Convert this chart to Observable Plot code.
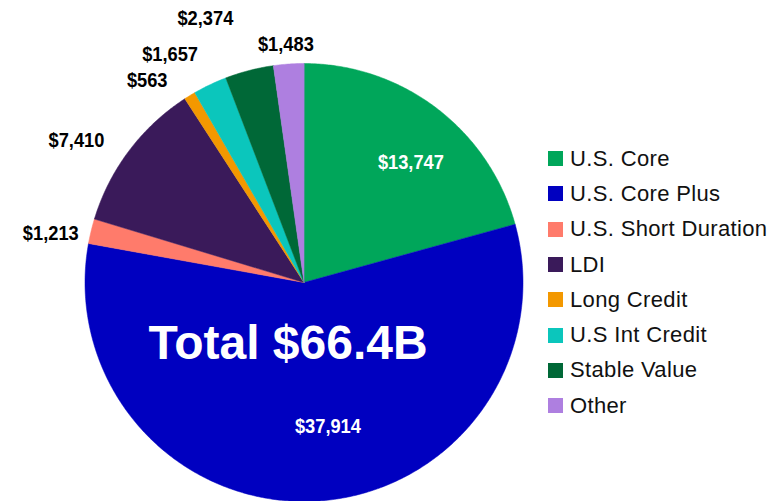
<!DOCTYPE html>
<html><head><meta charset="utf-8">
<script src="https://cdn.jsdelivr.net/npm/d3@7"></script>
<script src="https://cdn.jsdelivr.net/npm/@observablehq/plot@0.6"></script>
<style>
body{margin:0;background:#fff;}
#wrap{position:relative;width:783px;height:501px;overflow:hidden}
#legend{position:absolute;left:548px;top:141px;font-family:"Liberation Sans",Arial,sans-serif;font-size:22px;letter-spacing:0.35px;color:#111}
.row{display:flex;align-items:center;height:35.3px;white-space:nowrap}
.sw{width:15px;height:15px;margin-right:7px;flex:none}
</style></head><body><div id="wrap"></div>
<script>
// ---- data ----
const categories = ["U.S. Core","U.S. Core Plus","U.S. Short Duration","LDI","Long Credit","U.S Int Credit","Stable Value","Other"];
const values = [13747,37914,1213,7410,563,1657,2374,1483];
const colors = ["#00A65A","#0000C0","#FF7B6B","#3A1A5A","#F39800","#0BC6BC","#006837","#AE7FE0"];
const totalLabel = "Total $66.4B";
// layout: which labels sit inside, and small pixel nudges for label placement
const labelInside = [true,true,false,false,false,false,false,false];
const labelNudge = [[14,2],[17,-9],[-2,11],[-21,13],[-22,18],[-23,5],[-34,-14],[0,20]];

// ---- build slices ----
const fmt = d3.format("$,");
const pie = d3.pie().sort(null).value(d => d.value)(categories.map((c,i) => ({category:c, value:values[i], i})));
const slices = pie.map(p => {
  const ring = [[0,0]];
  const n = Math.max(4, Math.ceil((p.endAngle - p.startAngle) / (Math.PI/360)));
  for (let k = 0; k <= n; k++) {
    const a = p.startAngle + (p.endAngle - p.startAngle) * k / n;
    ring.push([Math.sin(a), Math.cos(a)]);
  }
  ring.push([0,0]);
  return {type:"Feature", properties:{category:p.data.category}, geometry:{type:"Polygon", coordinates:[ring]}};
});
const labels = pie.map(p => {
  const mid = (p.startAngle + p.endAngle) / 2;
  const r = labelInside[p.data.i] ? 0.7 : 1.18;
  return {x: r*Math.sin(mid), y: r*Math.cos(mid), text: fmt(p.data.value), i: p.data.i};
});
const circle = {type:"Polygon", coordinates:[d3.range(0,361,2).map(a => [Math.sin(a*Math.PI/180), Math.cos(a*Math.PI/180)])]};

const labelFont = "'Liberation Sans',Arial,sans-serif";

const plot = Plot.plot({
  width: 783, height: 501,
  marginLeft: 84, marginRight: 260, marginTop: 63, marginBottom: 0,
  projection: {type: "reflect-y", domain: circle, clip: false},
  color: {domain: categories, range: colors},
  style: {background: "#fff", overflow: "visible"},
  marks: [
    Plot.geo(slices, {fill: d => d.properties.category, stroke: d => d.properties.category, strokeWidth: 0.5}),
    ...labels.map(l => Plot.text([l], {
      x: "x", y: "y", text: "text",
      dx: labelNudge[l.i][0], dy: labelNudge[l.i][1],
      fill: labelInside[l.i] ? "white" : "black",
      fontFamily: labelFont, fontWeight: "bold", fontSize: 21,
      clip: false
    })),
    Plot.text([{x:0, y:0, text: totalLabel}], {
      x: "x", y: "y", text: "text", dx: -16, dy: 61,
      fill: "white", fontFamily: "'Liberation Sans',Arial,sans-serif", fontWeight: "bold", fontSize: 48
    })
  ]
});
const wrap = document.getElementById("wrap");
wrap.appendChild(plot);

// condense the value labels (narrow bold face in the original)
const valueTexts = new Set(labels.map(l => l.text));
plot.querySelectorAll("text").forEach(el => {
  if (!valueTexts.has(el.textContent)) return;
  const tr = el.getAttribute("transform");
  if (tr) {
    el.setAttribute("transform", tr + " scale(0.87,1)");
  } else {
    const x = +el.getAttribute("x") || 0, y = +el.getAttribute("y") || 0;
    el.setAttribute("transform", `translate(${x},${y}) scale(0.87,1) translate(${-x},${-y})`);
  }
});

// legend from the plot's colour scale
const cs = plot.scale("color");
const legend = document.createElement("div");
legend.id = "legend";
cs.domain.forEach((c, i) => {
  const row = document.createElement("div"); row.className = "row";
  const sw = document.createElement("div"); sw.className = "sw"; sw.style.background = cs.range[i];
  const t = document.createElement("span"); t.textContent = c;
  row.appendChild(sw); row.appendChild(t); legend.appendChild(row);
});
wrap.appendChild(legend);
</script></body></html>
